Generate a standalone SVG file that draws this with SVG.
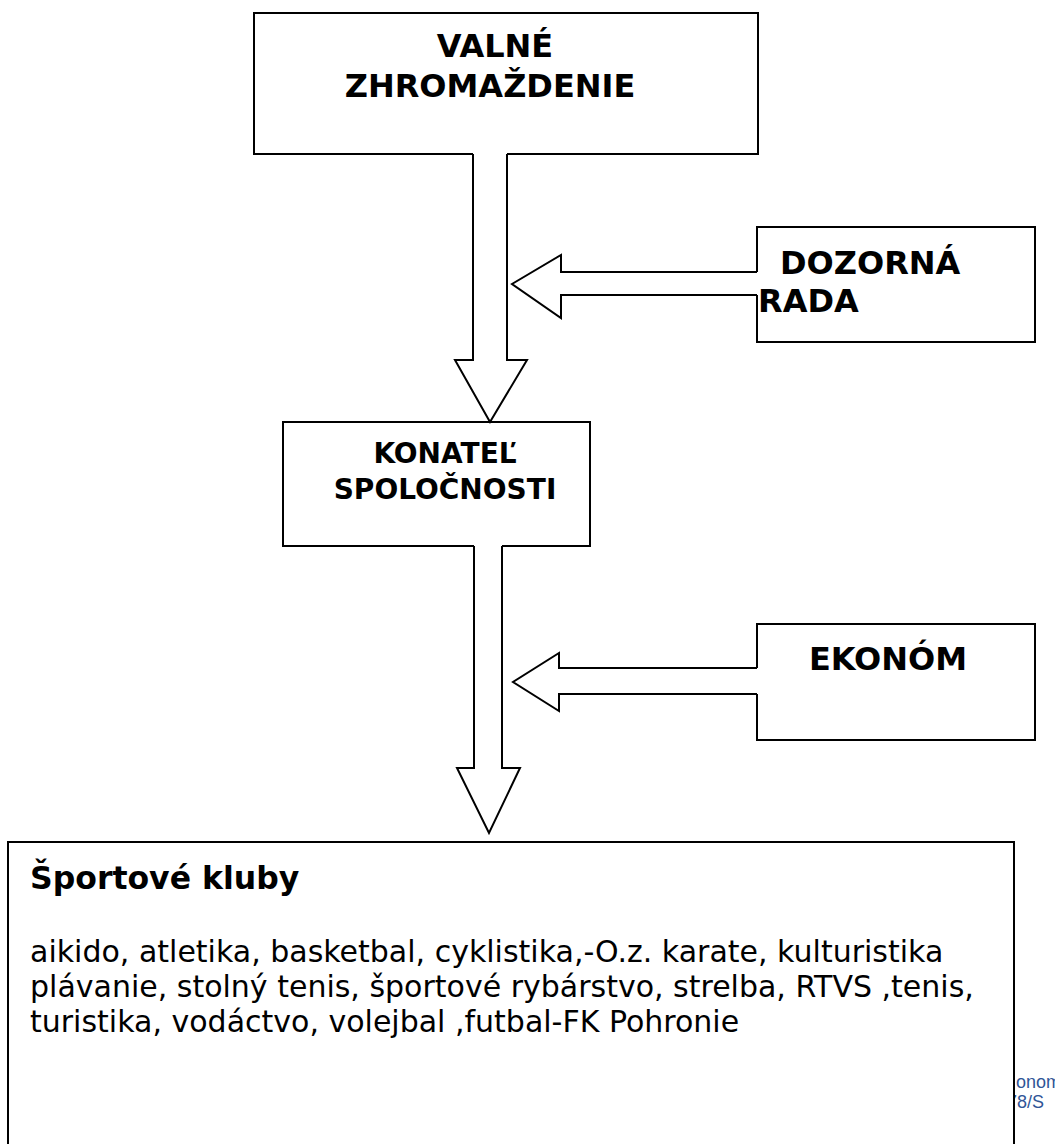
<svg xmlns="http://www.w3.org/2000/svg" width="1055" height="1144" viewBox="0 0 1055 1144">
  <style>
    .box { fill: #ffffff; stroke: #000000; stroke-width: 2; }
    .title { font-family: "DejaVu Sans", Verdana, sans-serif; font-weight: bold; font-size: 32px; fill: #000000; }
    .mid { font-family: "DejaVu Sans", Verdana, sans-serif; font-weight: bold; font-size: 28px; fill: #000000; }
    .body { font-family: "DejaVu Sans", Verdana, sans-serif; font-size: 30px; fill: #000000; }
    .head { font-family: "DejaVu Sans", Verdana, sans-serif; font-weight: bold; font-size: 31.5px; fill: #000000; }
    .side { font-family: "Liberation Sans", Arial, sans-serif; font-size: 18px; fill: #2F5597; }
    .afill { fill: #ffffff; stroke: none; }
    .aline { fill: none; stroke: #000000; stroke-width: 2; stroke-linejoin: miter; }
  </style>

  <g id="side-text">
    <text class="side" x="1016" y="1088">onom</text>
    <text class="side" x="1007" y="1108">78/S</text>
  </g>

  <g id="valne-zhromazdenie">
    <rect class="box" x="254" y="13" width="504" height="141"/>
    <text class="title" x="495" y="57" text-anchor="middle">VALNÉ</text>
    <text class="title" x="490" y="97" text-anchor="middle">ZHROMAŽDENIE</text>
  </g>

  <g id="dozorna-rada">
    <rect class="box" x="757" y="227" width="278" height="115"/>
    <text class="title" x="780" y="274">DOZORNÁ</text>
    <text class="title" x="758" y="312">RADA</text>
  </g>

  <g id="konatel-spolocnosti">
    <rect class="box" x="283" y="422" width="307" height="124"/>
    <text class="mid" x="445" y="463" text-anchor="middle">KONATEĽ</text>
    <text class="mid" x="445" y="499" text-anchor="middle">SPOLOČNOSTI</text>
  </g>

  <g id="ekonom">
    <rect class="box" x="757" y="624" width="278" height="116"/>
    <text class="title" x="888" y="670" text-anchor="middle">EKONÓM</text>
  </g>

  <g id="sportove-kluby">
    <rect class="box" x="8" y="842" width="1006" height="320"/>
    <text class="head" x="30" y="889">Športové kluby</text>
    <text class="body" x="30" y="962">aikido, atletika, basketbal, cyklistika,-O.z. karate, kulturistika</text>
    <text class="body" x="30" y="997">plávanie, stolný tenis, športové rybárstvo, strelba, RTVS ,tenis,</text>
    <text class="body" x="30" y="1032">turistika, vodáctvo, volejbal ,futbal-FK Pohronie</text>
  </g>

  <g id="connectors">
    <polygon class="afill" points="473,152 473,360 455,360 490,422 527,360 507,360 507,152"/>
    <polyline class="aline" points="473,154 473,360 455,360 490,422 527,360 507,360 507,154"/>

    <polygon class="afill" points="759,272 561,272 561,255 512,284 561,318 561,295 759,295"/>
    <polyline class="aline" points="757,272 561,272 561,255 512,284 561,318 561,295 757,295"/>

    <polygon class="afill" points="474,544 474,768 457,768 489,833 520,768 502,768 502,544"/>
    <polyline class="aline" points="474,546 474,768 457,768 489,833 520,768 502,768 502,546"/>

    <polygon class="afill" points="759,668 559,668 559,653 513,682 559,711 559,694 759,694"/>
    <polyline class="aline" points="757,668 559,668 559,653 513,682 559,711 559,694 757,694"/>
  </g>
</svg>
